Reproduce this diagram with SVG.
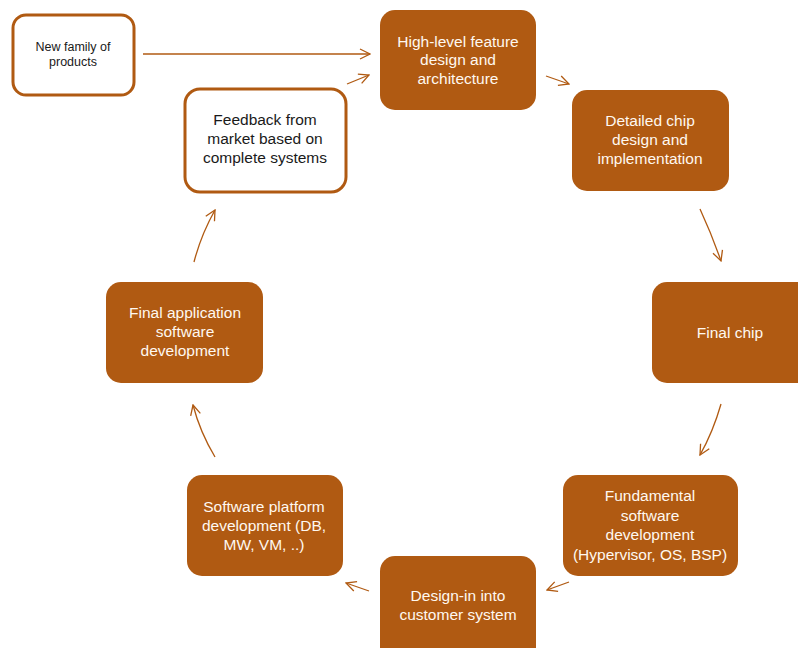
<svg xmlns="http://www.w3.org/2000/svg" width="798" height="648" viewBox="0 0 798 648">
<style>
.f{fill:#B05A12;}
.w{fill:#fff;stroke:#B05A12;stroke-width:3;}
.t{font-family:"Liberation Sans",Arial,sans-serif;font-size:15.5px;fill:#FFF8F0;text-anchor:middle;}
.d{font-family:"Liberation Sans",Arial,sans-serif;font-size:15.5px;fill:#1a1a1a;text-anchor:middle;}
.s{font-size:12.5px;}
.c{fill:none;stroke:#B05A12;stroke-width:1.3;marker-end:url(#a);}
</style>
<defs>
<marker id="a" viewBox="0 0 12 12" refX="11" refY="6" markerWidth="12" markerHeight="12" markerUnits="userSpaceOnUse" orient="auto">
<path d="M1,1 L11,6 L1,11" fill="none" stroke="#B05A12" stroke-width="1.3"/>
</marker>
</defs>
<g id="connectors">
<path class="c" d="M143,54 L370,54"/>
<path class="c" d="M347,84 L369,75"/>
<path class="c" d="M546,76 L569,84"/>
<path class="c" d="M700,209 Q712,235 721,261"/>
<path class="c" d="M721,404 Q713,432 700,455"/>
<path class="c" d="M569,582 L547,590"/>
<path class="c" d="M369,591 L346,583"/>
<path class="c" d="M215,457 Q200,432 193,405"/>
<path class="c" d="M194,262 Q201,235 215,210"/>
</g>
<g id="n-new">
<rect class="w" x="13" y="15" width="121" height="80" rx="13"/>
<text class="d s" x="73" y="51">New family of</text>
<text class="d s" x="73" y="66">products</text>
</g>
<g id="n-feedback">
<rect class="w" x="185" y="89" width="161" height="103" rx="15"/>
<text class="d" x="265" y="125">Feedback from</text>
<text class="d" x="265" y="144">market based on</text>
<text class="d" x="265" y="163">complete systems</text>
</g>
<g id="n-high">
<rect class="f" x="380" y="10" width="156" height="100" rx="15"/>
<text class="t" x="458" y="47">High-level feature</text>
<text class="t" x="458" y="65">design and</text>
<text class="t" x="458" y="84">architecture</text>
</g>
<g id="n-detailed">
<rect class="f" x="572" y="90" width="157" height="101" rx="15"/>
<text class="t" x="650" y="126">Detailed chip</text>
<text class="t" x="650" y="145">design and</text>
<text class="t" x="650" y="164">implementation</text>
</g>
<g id="n-final-chip">
<rect class="f" x="652" y="282" width="160" height="101" rx="15"/>
<text class="t" x="730" y="338">Final chip</text>
</g>
<g id="n-fundamental">
<rect class="f" x="563" y="475" width="175" height="101" rx="15"/>
<text class="t" x="650" y="501">Fundamental</text>
<text class="t" x="650" y="521">software</text>
<text class="t" x="650" y="540">development</text>
<text class="t" x="650" y="560">(Hypervisor, OS, BSP)</text>
</g>
<g id="n-designin">
<rect class="f" x="380" y="556" width="156" height="110" rx="15"/>
<text class="t" x="458" y="601">Design-in into</text>
<text class="t" x="458" y="620">customer system</text>
</g>
<g id="n-platform">
<rect class="f" x="187" y="475" width="156" height="101" rx="15"/>
<text class="t" x="264" y="512">Software platform</text>
<text class="t" x="264" y="531">development (DB,</text>
<text class="t" x="264" y="550">MW, VM, ..)</text>
</g>
<g id="n-finalapp">
<rect class="f" x="106" y="282" width="157" height="101" rx="15"/>
<text class="t" x="185" y="318">Final application</text>
<text class="t" x="185" y="337">software</text>
<text class="t" x="185" y="356">development</text>
</g>
</svg>
